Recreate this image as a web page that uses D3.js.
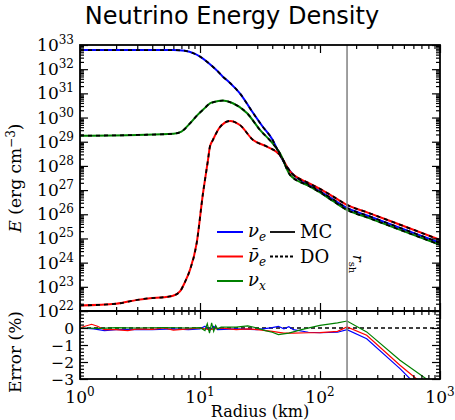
<!DOCTYPE html>
<html>
<head>
<meta charset="utf-8">
<script src="https://cdn.jsdelivr.net/npm/d3@7"></script>
<style>
  body { margin: 0; background: #fff; }
  svg { display: block; }
</style>
</head>
<body>
<script>
// energy density, log10(E / erg cm^-3) vs radius (km)
const rNue = [1, 3, 6, 7.5, 9, 10, 11.5, 12.8, 14, 15.5, 17, 18.9, 21.5, 27, 33, 40, 46.4, 52, 60, 80, 100, 130, 168, 250, 400, 600, 1000]
const eNue = [32.79, 32.79, 32.79, 32.76, 32.64, 32.52, 32.3, 32.1, 31.92, 31.69, 31.52, 31.3, 31.0, 30.27, 29.65, 29.1, 28.45, 28.02, 27.63, 27.24, 26.95, 26.6, 26.26, 25.94, 25.56, 25.23, 24.82]

const rNuebar = [1, 2, 3, 3.83, 5, 5.95, 6.81, 7.5, 8.25, 9.39, 10.6, 11.0, 11.66, 12.1, 12.8, 14.7, 17.8, 21.5, 27.7, 36.1, 46.4, 56.2, 80, 100, 130, 168, 250, 400, 600, 1000]
const eNuebar = [22.23, 22.3, 22.46, 22.53, 22.57, 22.63, 22.81, 23.2, 23.7, 24.82, 26.88, 27.42, 28.25, 28.8, 29.07, 29.61, 29.86, 29.69, 29.07, 28.8, 28.45, 27.77, 27.3, 27.05, 26.72, 26.39, 26.07, 25.69, 25.36, 24.94]

const rNux = [1, 3, 6, 7, 8.25, 9.5, 11, 12.1, 12.8, 15.5, 18.8, 24.6, 31.6, 40, 46.4, 56.2, 80, 100, 130, 168, 250, 400, 600, 1000]
const eNux = [29.25, 29.28, 29.33, 29.42, 29.76, 30.1, 30.4, 30.59, 30.63, 30.7, 30.59, 30.19, 29.49, 28.95, 28.52, 27.63, 27.18, 26.9, 26.53, 26.18, 25.86, 25.48, 25.15, 24.74]

// relative error (%) of DO vs MC
const rErrNue = [1, 1.3, 1.6, 2, 3, 4, 6, 8, 10, 11, 12, 13, 14, 20, 30, 40, 45, 50, 55, 60, 80, 100, 140, 168, 245, 464, 580]
const errNue = [0, -0.05, -0.15, -0.1, -0.08, -0.1, -0.05, -0.1, -0.05, 0.1, -0.15, 0.1, -0.1, -0.05, -0.1, 0.02, 0.1, -0.05, 0.08, -0.1, -0.25, -0.28, -0.25, -0.1, -0.63, -2.39, -3.08]

const rErrNuebar = [1, 1.1, 1.25, 1.4, 1.6, 2, 2.5, 3, 4, 5, 6, 8, 10, 12, 15, 20, 25, 30, 40, 50, 60, 80, 100, 140, 168, 245, 464, 660]
const errNuebar = [0, 0.1, 0.22, 0.1, -0.1, -0.1, -0.15, -0.05, -0.08, 0, -0.12, -0.05, 0, -0.1, 0, -0.1, -0.05, -0.1, -0.2, -0.3, -0.3, -0.28, -0.27, -0.2, 0.06, -0.43, -2.19, -3.08]

const rErrNux = [1, 1.5, 2, 3, 5, 8, 10, 11, 11.5, 12, 12.5, 13, 13.5, 14, 15, 20, 25, 30, 35, 40, 45, 55, 70, 100, 140, 168, 245, 464, 510, 800]
const errNux = [0, -0.02, 0.02, 0, 0.03, 0, 0.02, -0.15, 0.25, -0.3, 0.3, -0.2, 0.15, -0.05, 0.05, 0.05, 0.12, 0, -0.15, -0.25, -0.39, -0.3, -0.1, 0.15, 0.3, 0.41, -0.23, -1.9, -2.1, -3.08]

const rShock = 168
const species = [
  { sub: "e", bar: false, color: "#0000ff", r: rNue, e: eNue, rErr: rErrNue, err: errNue },
  { sub: "e", bar: true, color: "#ff0000", r: rNuebar, e: eNuebar, rErr: rErrNuebar, err: errNuebar },
  { sub: "x", bar: false, color: "#008000", r: rNux, e: eNux, rErr: rErrNux, err: errNux }
]

const width = 455, height = 420
const pL = 80, pR = 440, pT = 45, pM = 311, pB = 379
const serif = "DejaVu Serif, serif"

const svg = d3.select("body").append("svg")
  .attr("width", width).attr("height", height)

const x = d3.scaleLog().domain([1, 1000]).range([pL, pR])
const y = d3.scaleLog().domain([1e22, 1e33]).range([pM, pT])
const ye = d3.scaleLinear().domain([-3, 1]).range([pB, pM])

svg.append("clipPath").attr("id", "clipTop")
  .append("rect").attr("x", pL).attr("y", pT).attr("width", pR - pL).attr("height", pM - pT)
svg.append("clipPath").attr("id", "clipBot")
  .append("rect").attr("x", pL).attr("y", pM).attr("width", pR - pL).attr("height", pB - pM)

// title (centred on the figure, not the axes)
svg.append("text")
  .attr("x", 232).attr("y", 24)
  .attr("text-anchor", "middle")
  .style("font-family", "DejaVu Sans, sans-serif").style("font-size", "24px")
  .text("Neutrino Energy Density")

// curves: MC coloured solid, DO black dashed
const lineE = d3.line().x(d => x(d[0])).y(d => y(Math.pow(10, d[1]))).curve(d3.curveMonotoneX)
const gTop = svg.append("g").attr("clip-path", "url(#clipTop)")
species.forEach(s => {
  gTop.append("path")
    .attr("d", lineE(d3.zip(s.r, s.e)))
    .attr("fill", "none").attr("stroke", s.color).attr("stroke-width", 2)
})
species.forEach(s => {
  gTop.append("path")
    .attr("d", lineE(d3.zip(s.r, s.e)))
    .attr("fill", "none").attr("stroke", "#000").attr("stroke-width", 1.8)
    .attr("stroke-dasharray", "4,4")
})

// error panel
const lineErr = d3.line().x(d => x(d[0])).y(d => ye(d[1]))
const gBot = svg.append("g").attr("clip-path", "url(#clipBot)")
gBot.append("line")
  .attr("x1", pL).attr("x2", pR).attr("y1", ye(0)).attr("y2", ye(0))
  .attr("stroke", "#000").attr("stroke-width", 1.3).attr("stroke-dasharray", "4,3")
species.forEach(s => {
  gBot.append("path")
    .attr("d", lineErr(d3.zip(s.rErr, s.err)))
    .attr("fill", "none").attr("stroke", s.color).attr("stroke-width", 1.2)
})

// shock radius
svg.append("line")
  .attr("x1", x(rShock)).attr("x2", x(rShock)).attr("y1", pT).attr("y2", pB)
  .attr("stroke", "#808080").attr("stroke-width", 1.5)
svg.append("text")
  .attr("transform", `translate(${x(rShock) + 6},255) rotate(90)`)
  .style("font-family", serif).style("font-size", "14px")
  .call(t => {
    t.append("tspan").style("font-style", "italic").text("r")
    t.append("tspan").attr("dy", 4).style("font-size", "10px").text("sh")
  })

// ticks
const xMajor = [1, 10, 100, 1000]
const xMinor = []
;[1, 10, 100].forEach(d => d3.range(2, 10).forEach(k => xMinor.push(k * d)))
const yMajor = d3.range(22, 34).map(p => Math.pow(10, p))
const yMinor = []
d3.range(22, 33).forEach(p => d3.range(2, 10).forEach(k => yMinor.push(k * Math.pow(10, p))))
const eMajor = [-3, -2, -1, 0, 1]
const eMinor = d3.range(-3, 1.001, 0.2).filter(v => Math.abs(v - Math.round(v)) > 1e-6)

function ticks(axis, vals, size, tx, ty) {
  const g = svg.append("g").attr("transform", `translate(${tx},${ty})`)
    .call(axis.tickValues(vals).tickSize(size).tickSizeOuter(0).tickFormat(""))
  g.select(".domain").remove()
  g.selectAll("line").attr("stroke", "#000").attr("stroke-width", 1.2)
}
;[[xMajor, -8], [xMinor, -4]].forEach(([v, s]) => {
  ticks(d3.axisBottom(x), v, s, 0, pM)
  ticks(d3.axisTop(x), v, s, 0, pT)
  ticks(d3.axisTop(x), v, s, 0, pM)
  ticks(d3.axisBottom(x), v, s, 0, pB)
})
;[[yMajor, -8], [yMinor, -4]].forEach(([v, s]) => {
  ticks(d3.axisLeft(y), v, s, pL, 0)
  ticks(d3.axisRight(y), v, s, pR, 0)
})
;[[eMajor, -8], [eMinor, -4]].forEach(([v, s]) => {
  ticks(d3.axisLeft(ye), v, s, pL, 0)
  ticks(d3.axisRight(ye), v, s, pR, 0)
})

// frames
svg.append("rect").attr("x", pL).attr("y", pT).attr("width", pR - pL).attr("height", pM - pT)
  .attr("fill", "none").attr("stroke", "#000").attr("stroke-width", 1.8)
svg.append("rect").attr("x", pL).attr("y", pM).attr("width", pR - pL).attr("height", pB - pM)
  .attr("fill", "none").attr("stroke", "#000").attr("stroke-width", 1.8)

// tick labels
function pow10(sel, exp) {
  sel.append("tspan").text("10")
  sel.append("tspan").attr("dy", -7).style("font-size", "12px").text(exp)
}
svg.append("g").selectAll("text").data(d3.range(22, 34)).join("text")
  .attr("x", pL - 6).attr("y", p => y(Math.pow(10, p)) + 6)
  .attr("text-anchor", "end")
  .style("font-family", serif).style("font-size", "17px")
  .each(function (p) { pow10(d3.select(this), p) })
svg.append("g").selectAll("text").data([0, 1, 2, 3]).join("text")
  .attr("x", p => x(Math.pow(10, p))).attr("y", 403)
  .attr("text-anchor", "middle")
  .style("font-family", serif).style("font-size", "17px")
  .each(function (p) { pow10(d3.select(this), p) })
svg.append("g").selectAll("text").data([0, -1, -2, -3]).join("text")
  .attr("x", pL - 6).attr("y", v => ye(v) + 5.5)
  .attr("text-anchor", "end")
  .style("font-family", serif).style("font-size", "15.5px")
  .text(v => v < 0 ? "\u2212" + (-v) : String(v))

// axis titles
svg.append("text")
  .attr("x", (pL + pR) / 2).attr("y", 417)
  .attr("text-anchor", "middle")
  .style("font-family", serif).style("font-size", "16px")
  .text("Radius (km)")
svg.append("text")
  .attr("transform", `translate(21,${(pT + pM) / 2}) rotate(-90)`)
  .attr("text-anchor", "middle")
  .style("font-family", serif).style("font-size", "17px")
  .call(t => {
    t.append("tspan").style("font-style", "italic").text("E")
    t.append("tspan").text(" (erg cm")
    t.append("tspan").attr("dy", -6).style("font-size", "12px").text("\u22123")
    t.append("tspan").attr("dy", 6).text(")")
  })
svg.append("text")
  .attr("transform", `translate(21,352) rotate(-90)`)
  .attr("text-anchor", "middle")
  .style("font-family", serif).style("font-size", "17px")
  .text("Error (%)")

// legend
const leg = svg.append("g").style("font-family", serif).style("font-size", "18px")
species.forEach((s, i) => {
  const ly = 232 + i * 24.5
  leg.append("line").attr("x1", 217).attr("x2", 243).attr("y1", ly).attr("y2", ly)
    .attr("stroke", s.color).attr("stroke-width", 2)
  const t = leg.append("text").attr("x", 248).attr("y", ly + 5).style("font-style", "italic")
  t.append("tspan").text(s.bar ? "\u03bd\u0304" : "\u03bd")
  t.append("tspan").attr("dy", 4).style("font-size", "12px").text(s.sub)
})
;[["MC", null], ["DO", "3,2"]].forEach(([lab, dash], i) => {
  const ly = 232 + i * 24.5
  leg.append("line").attr("x1", 270).attr("x2", 295).attr("y1", ly).attr("y2", ly)
    .attr("stroke", "#000").attr("stroke-width", 1.8).attr("stroke-dasharray", dash)
  leg.append("text").attr("x", 300).attr("y", ly + 6).text(lab)
})
</script>
</body>
</html>
